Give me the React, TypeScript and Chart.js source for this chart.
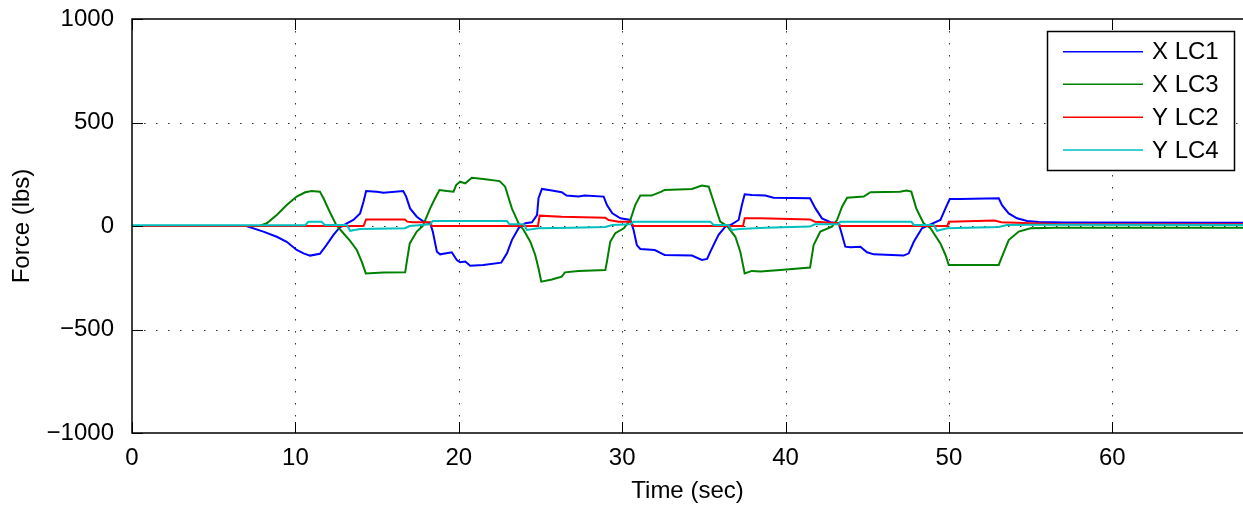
import React, { useEffect, useRef } from 'react';
import { Chart, registerables } from 'chart.js';

Chart.register(...registerables);

// ---- Data ----
const seriesLabels = ['X LC1', 'X LC3', 'Y LC2', 'Y LC4'];
const seriesColors = ['#0000ff', '#008000', '#ff0000', '#00bfbf'];

const xLc1Time = [0, 7.0, 8.04, 8.86, 9.47, 10.08, 10.5, 10.9, 11.5, 11.9, 12.33, 12.7, 13.15, 13.55, 13.96, 14.17, 14.33, 14.98, 15.39, 16.6, 16.78, 17.02, 17.43, 17.84, 18.25, 18.41, 18.66, 18.86, 19.57, 19.88, 20.08, 20.4, 20.7, 21.5, 22.6, 22.95, 23.25, 23.66, 24.07, 24.48, 24.79, 24.88, 25.09, 25.7, 26.3, 26.6, 27.33, 27.7, 28.87, 29.07, 29.4, 29.9, 30.5, 30.7, 30.9, 31.11, 32.0, 32.4, 32.6, 34.27, 34.88, 35.2, 35.4, 35.9, 36.32, 36.7, 37.13, 37.33, 37.5, 37.94, 38.76, 39.27, 41.5, 41.83, 42.23, 42.75, 43.25, 43.4, 43.66, 43.97, 44.58, 44.99, 45.4, 47.23, 47.54, 47.85, 48.35, 48.87, 49.48, 49.79, 50.05, 50.7, 53.05, 53.25, 53.66, 54.17, 54.79, 55.5, 57, 68];
const xLc1Force = [0, 0, -27, -52, -76, -116, -132, -143, -134, -92, -43, -8, 13, 29, 61, 117, 169, 166, 161, 169, 142, 85, 45, 21, 13, -27, -124, -137, -127, -164, -175, -172, -192, -188, -177, -132, -68, -11, 13, 18, 53, 134, 179, 171, 163, 147, 142, 147, 142, 101, 61, 37, 29, -19, -92, -111, -116, -132, -140, -143, -164, -159, -124, -43, -3, 8, 29, 101, 153, 150, 147, 137, 134, 85, 37, 18, 13, -27, -100, -103, -100, -127, -137, -143, -132, -76, -11, 8, 29, 85, 130, 130, 134, 101, 61, 37, 24, 19, 17, 16];

const xLc3Time = [0, 7.8, 8.25, 8.86, 9.47, 10.08, 10.6, 11.0, 11.5, 11.72, 12.1, 12.5, 12.94, 13.35, 13.76, 14.06, 14.31, 15.39, 16.72, 16.82, 17.0, 17.43, 17.8, 18.25, 18.55, 18.82, 19.27, 19.68, 19.84, 20.08, 20.4, 20.8, 21.5, 22.5, 22.84, 23.25, 23.66, 23.97, 24.38, 24.68, 24.88, 25.05, 25.7, 26.3, 26.5, 27.33, 28.97, 29.07, 29.27, 29.58, 30.1, 30.5, 30.8, 31.11, 31.8, 32.4, 32.6, 34.27, 34.88, 35.3, 35.6, 36.0, 36.42, 36.93, 37.23, 37.5, 37.94, 38.46, 39.68, 41.5, 41.72, 42.13, 42.84, 43.15, 43.46, 43.77, 44.78, 45.2, 47.0, 47.4, 47.7, 48.0, 48.45, 48.87, 49.48, 49.79, 49.99, 53.05, 53.25, 53.66, 54.27, 55.0, 56.5, 68];
const xLc3Force = [0, 0, 13, 53, 101, 142, 163, 169, 166, 134, 69, 5, -35, -72, -116, -172, -229, -225, -224, -172, -84, -27, 0, 85, 134, 174, 169, 166, 198, 214, 206, 233, 227, 217, 190, 85, 13, -19, -76, -140, -204, -269, -258, -245, -224, -217, -213, -172, -76, -35, -11, 29, 101, 147, 147, 166, 174, 179, 195, 190, 117, 21, 0, -52, -124, -229, -217, -220, -213, -201, -92, -27, -3, 29, 93, 137, 142, 163, 166, 171, 166, 85, 13, -11, -84, -140, -188, -188, -148, -68, -27, -11, -9, -9];

const yLc2Time = [0, 14.17, 14.33, 16.7, 16.85, 17.2, 18.25, 18.35, 24.85, 24.95, 26.3, 28.97, 29.17, 29.8, 30.5, 30.7, 37.4, 37.5, 38.46, 41.5, 41.8, 43.25, 43.35, 49.9, 50.0, 52.8, 53.2, 55.0, 57, 68];
const yLc2Force = [0, 0, 32, 32, 21, 18, 18, 0, 0, 50, 45, 40, 29, 21, 21, 0, 0, 37, 37, 32, 21, 13, 0, 0, 21, 26, 18, 13, 9, 8];

const yLc4Time = [0, 10.6, 10.8, 11.6, 11.8, 13.15, 13.35, 13.96, 16.7, 17.0, 18.25, 18.4, 22.95, 23.1, 23.97, 24.17, 24.88, 26.9, 28.97, 29.4, 30.5, 30.7, 35.4, 35.6, 36.5, 36.7, 37.2, 38.76, 41.5, 41.8, 43.25, 43.35, 47.7, 47.85, 49.07, 49.27, 49.9, 53.05, 53.55, 55.0, 68];
const yLc4Force = [4, 4, 21, 21, 5, 5, -23, -14, -11, 0, 8, 24, 24, 8, 8, -19, -11, -8, -5, 5, 8, 21, 21, 5, 5, -19, -14, -8, -3, 8, 8, 21, 21, 5, 5, -23, -11, -5, 5, 6, 5];

const seriesTimes = [xLc1Time, xLc3Time, yLc2Time, yLc4Time];
const seriesForces = [xLc1Force, xLc3Force, yLc2Force, yLc4Force];

const xTickValues = [0, 10, 20, 30, 40, 50, 60];
const yTickValues = [-1000, -500, 0, 500, 1000];
const xMin = 0;
const xMax = 68;
const yMin = -1000;
const yMax = 1000;

const FONT = '"Liberation Sans", Arial, Helvetica, sans-serif';

const framePlugin = {
  id: 'matlabFrame',
  beforeDatasetsDraw(chart: any) {
    const { ctx, chartArea: a, scales } = chart;
    const xs = scales.x;
    const ys = scales.y;
    ctx.save();
    ctx.strokeStyle = '#333333';
    ctx.lineWidth = 1;
    ctx.setLineDash([1.5, 10.5]);
    xTickValues.forEach((v) => {
      if (v === xMin || v === xMax) return;
      const px = Math.round(xs.getPixelForValue(v)) + 0.5;
      ctx.beginPath();
      ctx.moveTo(px, a.top);
      ctx.lineTo(px, a.bottom);
      ctx.stroke();
    });
    yTickValues.forEach((v) => {
      if (v === yMin || v === yMax) return;
      const py = Math.round(ys.getPixelForValue(v)) + 0.5;
      ctx.beginPath();
      ctx.moveTo(a.left, py);
      ctx.lineTo(a.right, py);
      ctx.stroke();
    });
    ctx.restore();
  },
  afterDatasetsDraw(chart: any) {
    const { ctx, chartArea: a, scales, data } = chart;
    const xs = scales.x;
    const ys = scales.y;
    ctx.save();
    ctx.setLineDash([]);
    ctx.strokeStyle = '#000000';
    ctx.lineWidth = 1.5;
    ctx.beginPath();
    ctx.moveTo(a.right + 2, a.top);
    ctx.lineTo(a.left, a.top);
    ctx.lineTo(a.left, a.bottom);
    ctx.lineTo(a.right + 2, a.bottom);
    ctx.stroke();
    ctx.lineWidth = 1;
    const tl = 11;
    xTickValues.forEach((v) => {
      const px = Math.round(xs.getPixelForValue(v)) + 0.5;
      ctx.beginPath();
      ctx.moveTo(px, a.bottom);
      ctx.lineTo(px, a.bottom - tl);
      ctx.moveTo(px, a.top);
      ctx.lineTo(px, a.top + tl);
      ctx.stroke();
    });
    yTickValues.forEach((v) => {
      const py = Math.round(ys.getPixelForValue(v)) + 0.5;
      ctx.beginPath();
      ctx.moveTo(a.left, py);
      ctx.lineTo(a.left + tl, py);
      ctx.stroke();
    });
    // legend
    const bx = 1047.5, by = 31.5, bw = 187, bh = 139;
    ctx.fillStyle = '#ffffff';
    ctx.fillRect(bx, by, bw, bh);
    ctx.strokeStyle = '#000000';
    ctx.lineWidth = 1.5;
    ctx.strokeRect(bx, by, bw, bh);
    const rows = [51.7, 84.3, 117.3, 150];
    ctx.font = '24px ' + FONT;
    ctx.textAlign = 'left';
    ctx.textBaseline = 'middle';
    data.datasets.forEach((ds: any, i: number) => {
      const y = rows[i];
      ctx.strokeStyle = ds.borderColor;
      ctx.lineWidth = 1.5;
      ctx.beginPath();
      ctx.moveTo(1063, y);
      ctx.lineTo(1143, y);
      ctx.stroke();
      ctx.fillStyle = '#000000';
      ctx.fillText(ds.label, 1152, y + 1);
    });
    ctx.restore();
  },
};

export default function App() {
  const canvasRef = useRef<HTMLCanvasElement | null>(null);

  useEffect(() => {
    document.body.style.margin = '0';
    const canvas = canvasRef.current;
    if (!canvas) return;
    Chart.defaults.font.family = FONT;
    Chart.defaults.color = '#000000';

    const datasets = seriesLabels.map((label, i) => ({
      label,
      data: seriesTimes[i].map((t, j) => ({ x: t, y: seriesForces[i][j] })),
      borderColor: seriesColors[i],
      backgroundColor: seriesColors[i],
      borderWidth: 2,
      pointRadius: 0,
      tension: 0,
      fill: false,
      order: seriesLabels.length - i,
    }));

    const chart = new Chart(canvas, {
      type: 'line',
      data: { datasets },
      plugins: [framePlugin],
      options: {
        animation: false,
        responsive: false,
        devicePixelRatio: 1,
        layout: { padding: { top: 19, right: 0, left: 0, bottom: 0 } },
        plugins: { legend: { display: false }, tooltip: { enabled: false } },
        scales: {
          x: {
            type: 'linear',
            min: xMin,
            max: xMax,
            grid: { display: false },
            border: { display: false },
            afterBuildTicks: (s: any) => { s.ticks = xTickValues.map((v) => ({ value: v })); },
            afterFit: (s: any) => { s.height = 75; s.paddingLeft = 0; s.paddingRight = 0; },
            ticks: { font: { size: 24 }, color: '#000', padding: 3, maxRotation: 0, autoSkip: false },
            title: { display: true, text: 'Time (sec)', font: { size: 24 }, color: '#000', padding: { top: 2, bottom: 2 } },
          },
          y: {
            type: 'linear',
            min: yMin,
            max: yMax,
            grid: { display: false },
            border: { display: false },
            afterBuildTicks: (s: any) => { s.ticks = yTickValues.map((v) => ({ value: v })); },
            afterFit: (s: any) => { s.width = 132; s.paddingTop = 0; s.paddingBottom = 0; },
            ticks: {
              font: { size: 24 },
              color: '#000',
              padding: 10,
              callback: (v: any) => (Number(v) < 0 ? '\u2212' + Math.abs(Number(v)) : String(v)),
            },
            title: { display: true, text: 'Force (lbs)', font: { size: 24 }, color: '#000', padding: { top: 8, bottom: 8 } },
          },
        },
      },
    } as any);

    return () => chart.destroy();
  }, []);

  return (
    <div style={{ width: 1243, height: 508, background: '#fff' }}>
      <canvas ref={canvasRef} width={1243} height={508} style={{ display: 'block' }} />
    </div>
  );
}
